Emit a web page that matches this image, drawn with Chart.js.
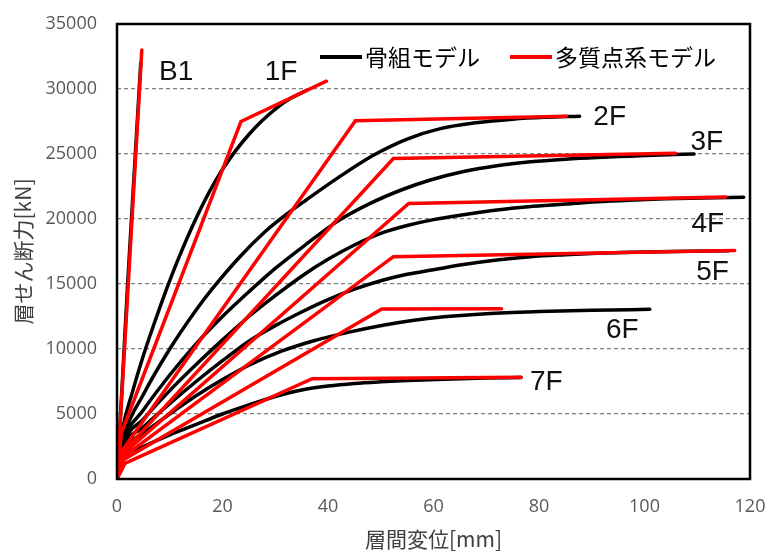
<!DOCTYPE html>
<html>
<head>
<meta charset="utf-8">
<script src="https://cdn.jsdelivr.net/npm/chart.js@4.4.0/dist/chart.umd.min.js"></script>
<style>
  html, body { margin: 0; padding: 0; background: #ffffff; }
  #wrap { width: 768px; height: 554px; }
</style>
</head>
<body>
<div id="wrap"><canvas id="c" width="768" height="554"></canvas></div>
<script>
// Story shear vs. inter-story drift, per floor.
// Frame model curves (black) and multi-mass model tri-linear skeletons (red).

const xTicks = [0, 20, 40, 60, 80, 100, 120];
const yTicks = [0, 5000, 10000, 15000, 20000, 25000, 30000, 35000];

const floors = ['B1', '1F', '2F', '3F', '4F', '5F', '6F', '7F'];

// Frame model [drift mm, shear kN]
const frameB1 = [[0,0],[1.0,7400],[2.0,14900],[3.2,23100],[4.5,32000]];
const frame1F = [[0,0],[0.3,1500],[1,3700],[3,6800],[5,9500],[7,11900],[9.2,14400],[12,17300],[16,20900],[19.2,23300],[22.4,25200],[25,26500],[27.5,27550],[30.3,28550],[33,29300],[36,29900]];
const frame2F = [[0,0],[0.4,1500],[1.3,3300],[5,6500],[10,10000],[15,13000],[18,14600],[23.3,17100],[28,19000],[31.6,20200],[36,21500],[42,23200],[48.6,24900],[55,26150],[61.3,26950],[68,27400],[75,27680],[81,27820],[87.7,27900]];
const frame3F = [[0,0],[0.4,1400],[1.3,3000],[5,5300],[10,8000],[15,10400],[20,12500],[25,14400],[30,16200],[36,18100],[41.7,19800],[48,21200],[54,22250],[59.4,23000],[65.7,23650],[72,24100],[78.4,24400],[85,24600],[91,24730],[97.3,24830],[103,24920],[109.4,25000]];
const frame4F = [[0,0],[0.4,1300],[1.3,2800],[5,4600],[10,6800],[15,8800],[20,10700],[25,12500],[30,14100],[35,15600],[40,16900],[45,18000],[50,18900],[55,19500],[60,19950],[66,20350],[72,20700],[78,20950],[85,21150],[91,21330],[97,21450],[104,21550],[111,21620],[118.8,21680]];
const frame5F = [[0,0],[0.4,1200],[1.4,2600],[5,4000],[10,5800],[15,7500],[20,9100],[25,10600],[30,11800],[35,12850],[40,13800],[45,14600],[50,15250],[55,15750],[60,16100],[65.7,16500],[72,16850],[78.4,17100],[85,17250],[91,17360],[98,17440],[105,17500],[116,17560]];
const frame6F = [[0,0],[0.4,1100],[1.4,2300],[5,3500],[10,5000],[15,6400],[20,7650],[25,8750],[31.3,9850],[37,10600],[44,11300],[50.7,11850],[56,12200],[62,12480],[70,12720],[80,12880],[90,12980],[101,13050]];
const frame7F = [[0,0],[0.4,1000],[1.5,1800],[5,2500],[10,3400],[15,4200],[20,5000],[25,5700],[30,6350],[35,6850],[40,7150],[45,7350],[50,7480],[55,7580],[62,7680],[70,7760],[76.6,7800]];

// Multi-mass model skeletons [drift mm, shear kN]
const massB1 = [[0,0],[4.7,33000]];
const mass1F = [[0,0],[0.8,3500],[23.5,27500],[39.7,30600]];
const mass2F = [[0,0],[1.0,2200],[45.2,27550],[85.2,27900]];
const mass3F = [[0,0],[1.0,2000],[52.4,24650],[105.9,25050]];
const mass4F = [[0,0],[1.1,1900],[55.3,21200],[115.4,21700]];
const mass5F = [[0,0],[1.2,1700],[52.4,17100],[117.1,17580]];
const mass6F = [[0,0],[1.3,1500],[50.2,13080],[72.9,13100]];
const mass7F = [[0,0],[1.5,1200],[37.0,7720],[76.6,7820]];

// Floor label anchors in data units
const labelX = [11.2, 31.1, 93.4, 111.8, 112.0, 112.9, 95.8, 81.4];
const labelY = [31300, 31300, 27850, 25900, 19600, 15900, 11450, 7460];

const legendNames = ['骨組モデル', '多質点系モデル'];

const frameSeries = [frameB1, frame1F, frame2F, frame3F, frame4F, frame5F, frame6F, frame7F];
const massSeries = [massB1, mass1F, mass2F, mass3F, mass4F, mass5F, mass6F, mass7F];

const toPts = arr => arr.map(p => ({ x: p[0], y: p[1] }));

const datasets = [];
// red first so it is painted over the black curves
massSeries.forEach((s, i) => datasets.push({
  label: legendNames[1] + ' ' + floors[i],
  data: toPts(s),
  borderColor: '#ff0000',
  borderWidth: 3.5,
  showLine: true,
  pointRadius: 0,
  tension: 0,
  borderJoinStyle: 'miter',
  borderCapStyle: 'round'
}));
frameSeries.forEach((s, i) => datasets.push({
  label: legendNames[0] + ' ' + floors[i],
  data: toPts(s),
  borderColor: '#000000',
  borderWidth: 3.5,
  showLine: true,
  pointRadius: 0,
  cubicInterpolationMode: 'monotone',
  borderCapStyle: 'round'
}));

const overlay = {
  id: 'overlay',
  afterDatasetsDraw(chart) {
    const { ctx, chartArea: a, scales } = chart;
    ctx.save();
    // plot frame
    ctx.strokeStyle = '#000';
    ctx.lineWidth = 2.5;
    ctx.strokeRect(a.left, a.top, a.right - a.left, a.bottom - a.top);

    // floor labels
    ctx.fillStyle = '#111';
    ctx.font = '28px "Liberation Sans", Arial, sans-serif';
    ctx.textAlign = 'center';
    ctx.textBaseline = 'middle';
    floors.forEach((f, i) => {
      ctx.fillText(f, scales.x.getPixelForValue(labelX[i]), scales.y.getPixelForValue(labelY[i]));
    });

    // legend inside the plot
    const ly = a.top + 33;
    const items = [
      { name: legendNames[0], color: '#000000', x0: 320 },
      { name: legendNames[1], color: '#ff0000', x0: 510 }
    ];
    ctx.font = '23px "Noto Sans CJK JP", sans-serif';
    ctx.textAlign = 'left';
    items.forEach(it => {
      ctx.strokeStyle = it.color;
      ctx.lineWidth = 4;
      ctx.beginPath();
      ctx.moveTo(it.x0, ly);
      ctx.lineTo(it.x0 + 42, ly);
      ctx.stroke();
      ctx.fillStyle = '#000';
      ctx.fillText(it.name, it.x0 + 45, ly);
    });
    ctx.restore();
  }
};

new Chart(document.getElementById('c'), {
  type: 'scatter',
  data: { datasets },
  plugins: [overlay],
  options: {
    responsive: false,
    animation: false,
    devicePixelRatio: 1,
    layout: { padding: { top: 24, right: 18, left: 0, bottom: 0 } },
    plugins: { legend: { display: false }, tooltip: { enabled: false } },
    scales: {
      x: {
        type: 'linear',
        min: xTicks[0],
        max: xTicks[xTicks.length - 1],
        afterBuildTicks: s => { s.ticks = xTicks.map(v => ({ value: v })); },
        ticks: { color: '#595959', font: { family: '"Open Sans", sans-serif', size: 18 }, padding: 17, callback: v => String(v) },
        grid: { display: false, drawTicks: false },
        border: { display: false },
        title: {
          display: true, text: '層間変位[mm]', color: '#404040',
          font: { family: '"Noto Sans CJK JP", sans-serif', size: 21 },
          padding: { top: 0, bottom: 2 }
        },
        afterFit: s => { s.height = 75; s.paddingLeft = 0; s.paddingRight = 0; }
      },
      y: {
        type: 'linear',
        min: yTicks[0],
        max: yTicks[yTicks.length - 1],
        afterBuildTicks: s => { s.ticks = yTicks.map(v => ({ value: v })); },
        ticks: { color: '#595959', font: { family: '"Open Sans", sans-serif', size: 18 }, padding: 20, callback: v => String(v) },
        grid: {
          drawTicks: false,
          lineWidth: 1.3,
          color: c => (c.tick && (c.tick.value === 0 || c.tick.value === 35000)) ? 'rgba(0,0,0,0)' : '#808080'
        },
        border: { display: false, dash: [4, 3] },
        title: {
          display: true, text: '層せん断力[kN]', color: '#404040',
          font: { family: '"Noto Sans CJK JP", sans-serif', size: 21 },
          padding: { top: 10, bottom: 0 }
        },
        afterFit: s => { s.width = 117; s.paddingTop = 0; s.paddingBottom = 0; }
      }
    }
  }
});
</script>
</body>
</html>
